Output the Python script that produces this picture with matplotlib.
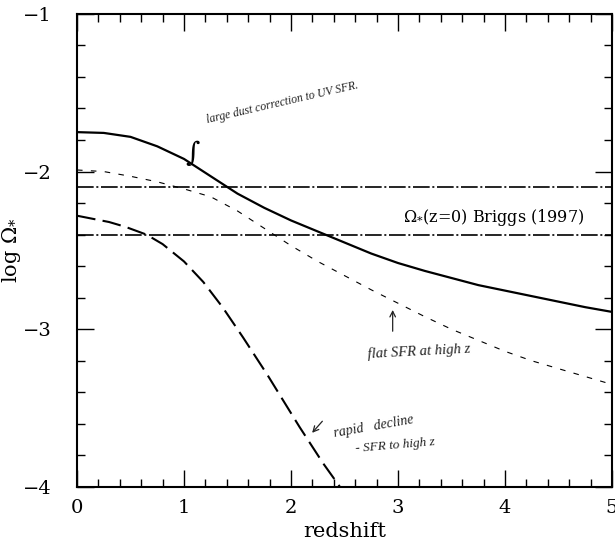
import matplotlib.pyplot as plt
from matplotlib.ticker import MultipleLocator

# сплошная кривая (большая поправка на пыль)
z_solid = [0.0, 0.25, 0.5, 0.75, 1.0, 1.25, 1.5, 1.75, 2.0, 2.25, 2.5, 2.75,
           3.0, 3.25, 3.5, 3.75, 4.0, 4.25, 4.5, 4.75, 5.0]
om_solid = [-1.75, -1.755, -1.78, -1.84, -1.92, -2.03, -2.14, -2.23, -2.31, -2.38, -2.45, -2.52,
            -2.58, -2.63, -2.675, -2.72, -2.755, -2.79, -2.825, -2.86, -2.89]

# пунктир (плоский SFR на больших z)
z_flat = [0.0, 0.25, 0.5, 0.75, 1.0, 1.25, 1.5, 1.75, 2.0, 2.25, 2.5, 2.75,
          3.0, 3.25, 3.5, 3.75, 4.0, 4.25, 4.5, 4.75, 5.0]
om_flat = [-1.99, -2.0, -2.03, -2.065, -2.11, -2.16, -2.25, -2.36, -2.47, -2.57, -2.66, -2.75,
           -2.835, -2.92, -3.0, -3.07, -3.14, -3.2, -3.25, -3.3, -3.35]

# длинные штрихи (быстрый спад)
z_rapid = [0.0, 0.15, 0.3, 0.45, 0.65, 0.8, 1.0, 1.18, 1.36, 1.55, 1.78, 2.08, 2.3, 2.5]
om_rapid = [-2.28, -2.30, -2.32, -2.35, -2.40, -2.46, -2.57, -2.70, -2.86, -3.05, -3.29, -3.62, -3.85, -4.04]

# Briggs (1997), z=0
briggs_levels = [-2.1, -2.4]

plt.rcParams['font.family'] = 'DejaVu Serif'
plt.rcParams['mathtext.fontset'] = 'dejavuserif'

fig = plt.figure(figsize=(6.15, 5.54), dpi=100)
ax = fig.add_axes([0.1252, 0.121, 0.870, 0.854])

for lev in briggs_levels:
    ax.axhline(lev, color='black', lw=1.2, dashes=(10, 1.6, 1.2, 1.6))

ax.plot(z_solid, om_solid, color='black', lw=1.6)
ax.plot(z_flat, om_flat, color='black', lw=0.8, dashes=(5, 7.5))
ax.plot(z_rapid, om_rapid, color='black', lw=1.5, dashes=(9, 3.5))

ax.text(3.89, -2.29, r'$\Omega_{*}$(z=0) Briggs (1997)', fontsize=11.5,
        ha='center', va='center')

# рукописные пометки
hand = dict(family='Liberation Serif', style='italic', color='#222222')
ax.text(1.2, -1.71, 'large dust correction to UV SFR.', fontsize=8.5, rotation=13,
        ha='left', va='bottom', **hand)
ax.text(1.08, -1.88, r'$\int$', fontsize=14, ha='center', va='center')
ax.annotate('', xy=(2.95, -2.86), xytext=(2.95, -3.03),
            arrowprops=dict(arrowstyle='->', lw=0.9, color='#222222'))
ax.text(2.71, -3.14, 'flat SFR at high z', fontsize=10.5, rotation=3,
        ha='left', va='center', **hand)
ax.annotate('', xy=(2.18, -3.67), xytext=(2.31, -3.57),
            arrowprops=dict(arrowstyle='->', lw=0.9, color='#222222'))
ax.text(2.39, -3.62, 'rapid   decline', fontsize=10, rotation=10,
        ha='left', va='center', **hand)
ax.text(2.6, -3.74, '- SFR to high z', fontsize=9.5, rotation=5,
        ha='left', va='center', **hand)

ax.set_xlim(0, 5)
ax.set_ylim(-4, -1)
ax.set_xticks([0, 1, 2, 3, 4, 5])
ax.set_yticks([-4, -3, -2, -1])
ax.xaxis.set_minor_locator(MultipleLocator(0.2))
ax.yaxis.set_minor_locator(MultipleLocator(0.2))
ax.tick_params(which='both', direction='in', top=True, right=True, width=1)
ax.tick_params(which='major', length=12, labelsize=14)
ax.tick_params(which='minor', length=6)
ax.tick_params(axis='y', pad=18)
ax.tick_params(axis='x', pad=9)
for sp in ax.spines.values():
    sp.set_linewidth(1.5)

ax.set_xlabel('redshift', fontsize=15, labelpad=3)
ax.set_ylabel(r'log $\Omega_{*}$', fontsize=15)
ax.yaxis.set_label_coords(-0.1, 0.5)

plt.savefig('out.png', dpi=100)
